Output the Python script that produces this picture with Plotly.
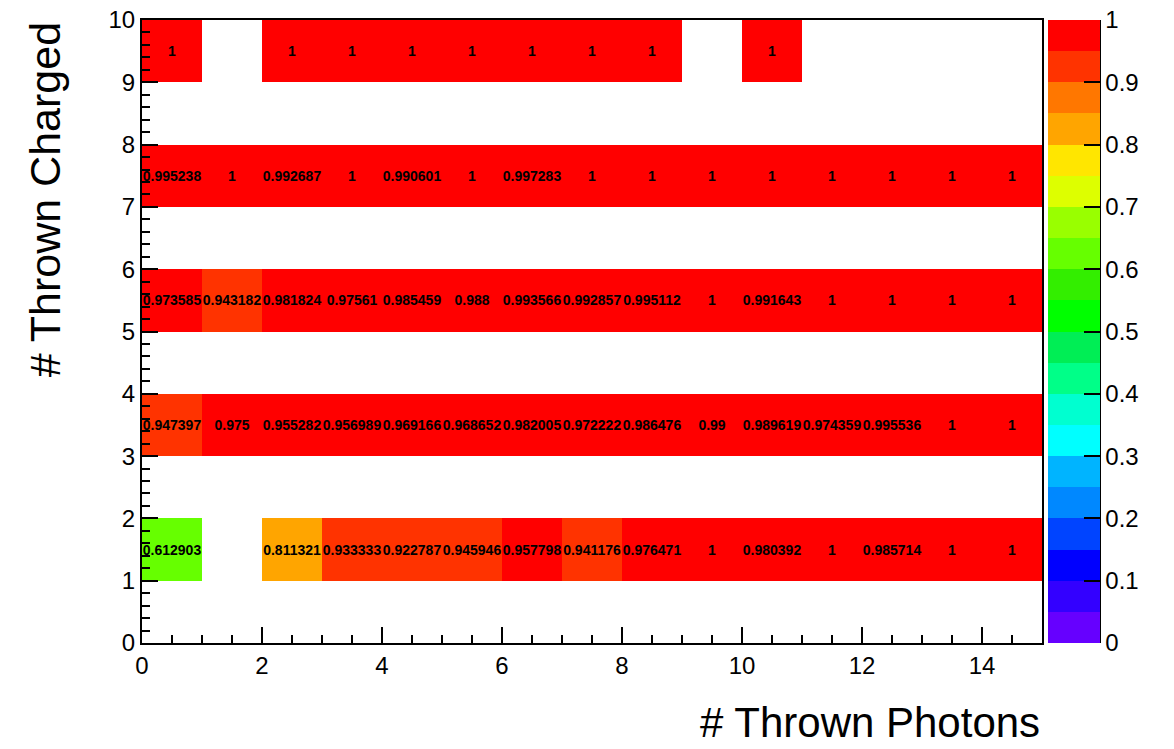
import plotly.graph_objects as go

# Data
x_centers = [i + 0.5 for i in range(15)]
y_centers = [j + 0.5 for j in range(10)]

row1 = [0.612903, None, 0.811321, 0.933333, 0.922787, 0.945946, 0.957798, 0.941176,
        0.976471, 1, 0.980392, 1, 0.985714, 1, 1]
row3 = [0.947397, 0.975, 0.955282, 0.956989, 0.969166, 0.968652, 0.982005, 0.972222,
        0.986476, 0.99, 0.989619, 0.974359, 0.995536, 1, 1]
row5 = [0.973585, 0.943182, 0.981824, 0.97561, 0.985459, 0.988, 0.993566, 0.992857,
        0.995112, 1, 0.991643, 1, 1, 1, 1]
row7 = [0.995238, 1, 0.992687, 1, 0.990601, 1, 0.997283, 1, 1, 1, 1, 1, 1, 1, 1]
row9 = [1, None, 1, 1, 1, 1, 1, 1, 1, None, 1, None, None, None, None]
empty = [None] * 15

z = [empty, row1, empty, row3, empty, row5, empty, row7, empty, row9]
text = [["" if v is None else "{:g}".format(v) for v in r] for r in z]

palette = ["#6600ff", "#3300ff", "#0000ff", "#0044ff", "#0088ff", "#00b4ff", "#00ffff",
           "#00ffd0", "#00ff88", "#00ee55", "#00ff00", "#33ee00", "#66ff00", "#99ff00",
           "#ddff00", "#ffe600", "#ffa500", "#ff7700", "#ff3300", "#ff0000"]
n = len(palette)
colorscale = []
for i, c in enumerate(palette):
    colorscale.append([i / n, c])
    colorscale.append([(i + 1) / n, c])

plot_w = 900
cb_x = 1.0 + 6 / plot_w
cb_th = 52

fig = go.Figure(go.Heatmap(
    x=x_centers, y=y_centers, z=z, text=text, texttemplate="%{text}",
    textfont=dict(family="Liberation Sans", size=14, color="black", weight="bold"),
    colorscale=colorscale, zmin=0, zmax=1, hoverongaps=False,
    colorbar=dict(
        x=cb_x, xanchor="left", xref="paper", xpad=0, ypad=0,
        y=0.5, yanchor="middle", len=1.0,
        thickness=cb_th, thicknessmode="pixels", outlinewidth=0,
        ticks="inside", ticklen=16, tickwidth=2, tickcolor="black",
        tick0=0, dtick=0.1, ticklabeloverflow="allow",
        tickfont=dict(family="Liberation Sans", size=24, color="black"),
    ),
))

axis_common = dict(
    showline=True, linecolor="black", linewidth=2, mirror=True,
    ticks="inside", ticklen=16, tickwidth=2, tickcolor="black",
    showgrid=False, zeroline=False, ticklabeloverflow="allow",
    tickfont=dict(family="Liberation Sans", size=24, color="black"),
)

fig.update_xaxes(range=[0, 15], tick0=0, dtick=2,
                 minor=dict(dtick=0.5, ticks="inside", ticklen=8, tickcolor="black", tickwidth=2),
                 **axis_common)
fig.update_yaxes(range=[0, 10], tick0=0, dtick=1,
                 minor=dict(dtick=0.2, ticks="inside", ticklen=8, tickcolor="black", tickwidth=2),
                 **axis_common)

fig.add_shape(type="line", xref="paper", yref="paper",
              x0=cb_x + cb_th / plot_w, x1=cb_x + cb_th / plot_w, y0=0, y1=1,
              line=dict(color="black", width=2))

fig.add_annotation(text="# Thrown Photons", xref="paper", yref="paper",
                   x=1, y=-0.127, xanchor="right", yanchor="middle", showarrow=False,
                   font=dict(family="Liberation Sans", size=42, color="black"))
fig.add_annotation(text="# Thrown Charged", xref="paper", yref="paper",
                   x=-0.108, y=1.0, xanchor="center", yanchor="top", textangle=-90,
                   showarrow=False,
                   font=dict(family="Liberation Sans", size=43, color="black"))

fig.update_layout(
    width=1174, height=749,
    margin=dict(l=142, r=132, t=20, b=106, autoexpand=False),
    paper_bgcolor="white", plot_bgcolor="white",
    showlegend=False,
)

fig.write_html("out.html", config={"displayModeBar": False},
               post_script="document.body.style.margin='0';document.body.style.overflow='hidden';")
